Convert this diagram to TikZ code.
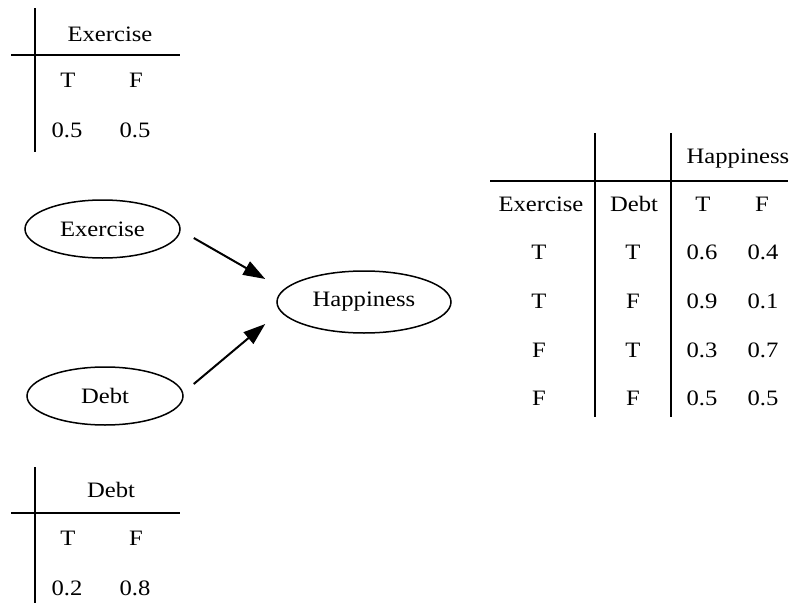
\documentclass[tikz,border=0pt]{standalone}
\usepackage{fontspec}
\setmainfont{Liberation Serif}[FakeStretch=1.12]
\usetikzlibrary{arrows.meta,shapes.geometric}
\begin{document}
\begin{tikzpicture}[x=1pt,y=-1pt,
  txt/.style={anchor=base,inner sep=0pt,font=\fontsize{22}{26}\selectfont},
  rule/.style={line width=2pt},
  var/.style={draw,line width=1.5pt,ellipse,minimum width=#1,font=\fontsize{22}{26}\selectfont,inner sep=0pt},
  var/.default=155pt,
  edge/.style={line width=2pt,-{Triangle[length=22pt,width=15pt]}}]
\useasboundingbox (0,0) rectangle (793,605);
% Exercise prior table
\draw[rule] (35,8) coordinate (e1) -- (35,152) coordinate (e2);
\draw[rule] (11,55) coordinate (e3) -- (180,55) coordinate (e4);
\node[txt] (eh) at (110,41) {Exercise};
\node[txt] (et) at (68,87) {T};
\node[txt] (ef) at (136,87) {F};
\node[txt] (ev1) at (67,137) {0.5};
\node[txt] (ev2) at (135,137) {0.5};
% Debt prior table
\draw[rule] (35,467) coordinate (d1) -- (35,603) coordinate (d2);
\draw[rule] (11,513) coordinate (d3) -- (180,513) coordinate (d4);
\node[txt] (dh) at (111,497) {Debt};
\node[txt] (dt) at (68,545) {T};
\node[txt] (df) at (136,545) {F};
\node[txt] (dv1) at (67,595) {0.2};
\node[txt] (dv2) at (135,595) {0.8};
% Happiness CPT
\draw[rule] (595,133) coordinate (h1) -- (595,417) coordinate (h2);
\draw[rule] (671,133) coordinate (h3) -- (671,417) coordinate (h4);
\draw[rule] (490,181) coordinate (h5) -- (788,181) coordinate (h6);
\node[txt] (hh) at (738,163) {Happiness};
\node[txt] (hce) at (541,211) {Exercise};
\node[txt] (hcd) at (634,211) {Debt};
\node[txt] (hct) at (703,211) {T};
\node[txt] (hcf) at (762,211) {F};
\node[txt] (r1a) at (539,259) {T};
\node[txt] (r1b) at (633,259) {T};
\node[txt] (r1c) at (702,259) {0.6};
\node[txt] (r1d) at (763,259) {0.4};
\node[txt] (r2a) at (539,308) {T};
\node[txt] (r2b) at (633,308) {F};
\node[txt] (r2c) at (702,308) {0.9};
\node[txt] (r2d) at (763,308) {0.1};
\node[txt] (r3a) at (539,357) {F};
\node[txt] (r3b) at (633,357) {T};
\node[txt] (r3c) at (702,357) {0.3};
\node[txt] (r3d) at (763,357) {0.7};
\node[txt] (r4a) at (539,405) {F};
\node[txt] (r4b) at (633,405) {F};
\node[txt] (r4c) at (702,405) {0.5};
\node[txt] (r4d) at (763,405) {0.5};
% Network
\node[var=155pt,minimum height=58pt] (ex) at (102.5,229) {Exercise};
\node[var=156pt,minimum height=58pt] (db) at (105,396) {Debt};
\node[var=174pt,minimum height=62pt] (hp) at (364,302) {Happiness};
\coordinate (a1) at ([shift={(13,9)}]ex.east);
\coordinate (a2) at ([shift={(-11,-23)}]hp.west);
\coordinate (b1) at ([shift={(10,-12)}]db.east);
\coordinate (b2) at ([shift={(-11,22)}]hp.west);
\draw[edge] (a1) -- (a2);
\draw[edge] (b1) -- (b2);
\end{tikzpicture}
\end{document}
